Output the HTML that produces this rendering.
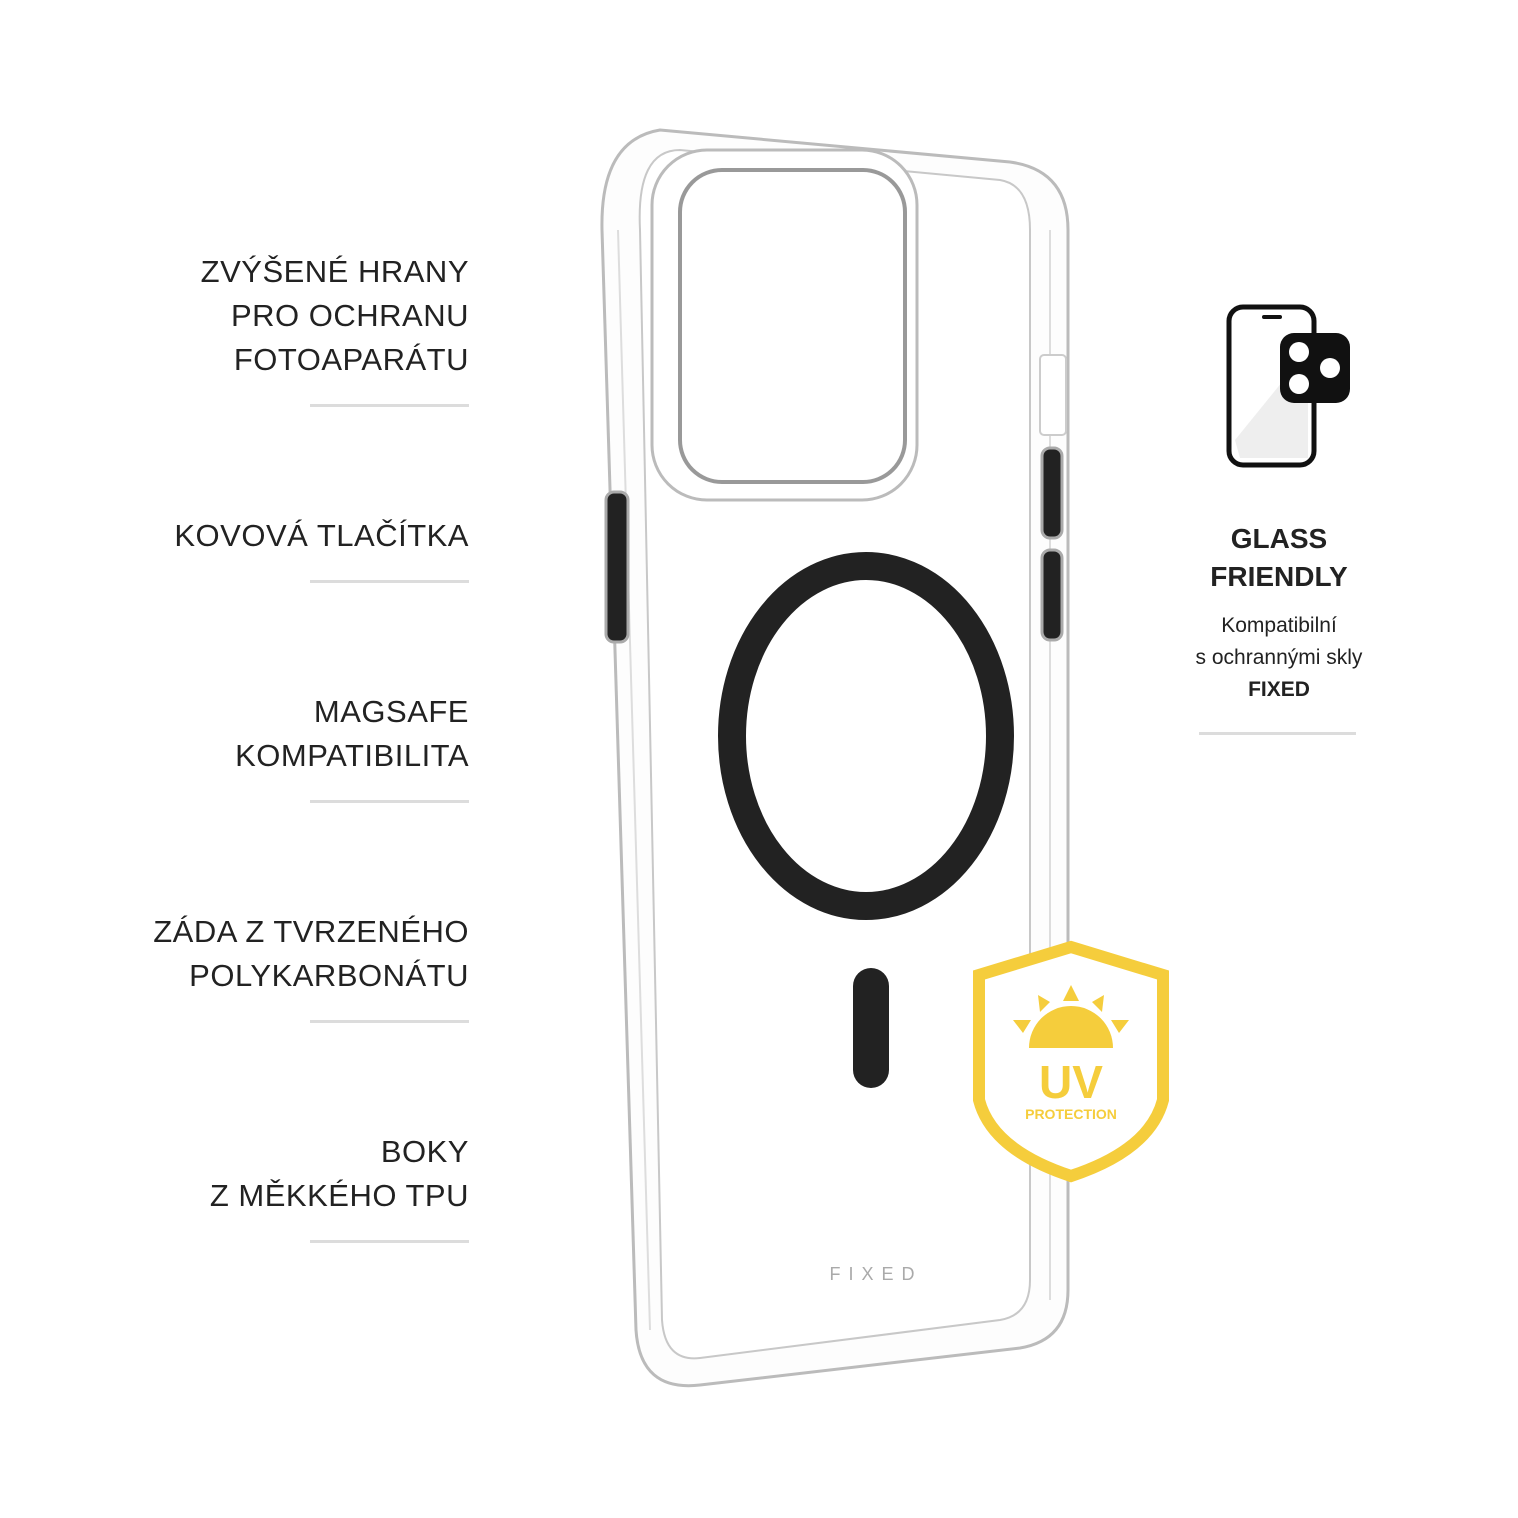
<!DOCTYPE html>
<html><head><meta charset="utf-8"><style>
body{margin:0;width:1518px;height:1518px;background:#fff;position:relative;overflow:hidden;font-family:"Liberation Sans",sans-serif}
.l{position:absolute;right:1049px;text-align:right;font-size:31px;line-height:44px;color:#222;letter-spacing:0.5px;font-weight:300;white-space:nowrap}
.d{position:absolute;left:310px;width:159px;height:3px;background:#dcdcdc}
</style></head><body>
<div class="l" style="top:250px">ZVÝŠENÉ HRANY<br>PRO OCHRANU<br>FOTOAPARÁTU</div>
<div class="d" style="top:404px"></div>
<div class="l" style="top:514px">KOVOVÁ TLAČÍTKA</div>
<div class="d" style="top:580px"></div>
<div class="l" style="top:690px">MAGSAFE<br>KOMPATIBILITA</div>
<div class="d" style="top:800px"></div>
<div class="l" style="top:910px">ZÁDA Z TVRZENÉHO<br>POLYKARBONÁTU</div>
<div class="d" style="top:1020px"></div>
<div class="l" style="top:1130px">BOKY<br>Z MĚKKÉHO TPU</div>
<div class="d" style="top:1240px"></div>

<svg width="1518" height="1518" style="position:absolute;left:0;top:0">
<!-- phone outline -->
<path d="M660 130 L1010 162 Q1068 170 1068 230 L1068 1290 Q1068 1340 1020 1348 L700 1385 Q640 1392 636 1330 L602 230 Q600 140 660 130 Z" fill="#fdfdfd" stroke="#bbb" stroke-width="3"/>
<path d="M680 150 L1000 180 Q1030 185 1030 230 L1030 1280 Q1030 1315 1000 1320 L700 1358 Q665 1362 662 1320 L640 230 Q636 150 680 150 Z" fill="#fff" stroke="#c8c8c8" stroke-width="2"/>
<line x1="618" y1="230" x2="650" y2="1330" stroke="#ddd" stroke-width="2"/>
<line x1="1050" y1="230" x2="1050" y2="1300" stroke="#ddd" stroke-width="2"/>
<!-- camera bump -->
<rect x="652" y="150" width="265" height="350" rx="55" fill="#fff" stroke="#bbb" stroke-width="3"/>
<rect x="680" y="170" width="225" height="312" rx="42" fill="#fff" stroke="#999" stroke-width="4"/>
<!-- buttons -->
<rect x="606" y="492" width="22" height="150" rx="8" fill="#222" stroke="#aaa" stroke-width="3"/>
<rect x="1042" y="448" width="20" height="90" rx="8" fill="#222" stroke="#aaa" stroke-width="3"/>
<rect x="1042" y="550" width="20" height="90" rx="8" fill="#222" stroke="#aaa" stroke-width="3"/>
<rect x="1040" y="355" width="26" height="80" rx="4" fill="#fff" stroke="#ccc" stroke-width="2"/>
<!-- magsafe -->
<ellipse cx="866" cy="736" rx="134" ry="170" fill="none" stroke="#222" stroke-width="28"/>
<rect x="853" y="968" width="36" height="120" rx="18" fill="#222"/>
<text x="876" y="1280" font-size="18" fill="#aaa" letter-spacing="8" text-anchor="middle" font-family="Liberation Sans">FIXED</text>
<!-- glass icon -->
<rect x="1229" y="307" width="85" height="158" rx="14" fill="#fff" stroke="#111" stroke-width="5"/>
<path d="M1235 440 L1308 350 L1308 458 L1240 458 Z" fill="#eee"/>
<rect x="1262" y="315" width="20" height="4" rx="2" fill="#111"/>
<rect x="1280" y="333" width="70" height="70" rx="14" fill="#111"/>
<circle cx="1299" cy="352" r="10" fill="#fff"/><circle cx="1330" cy="368" r="10" fill="#fff"/><circle cx="1299" cy="384" r="10" fill="#fff"/>
<!-- shield -->
<path d="M1071 947 L1163 975 L1163 1100 Q1150 1150 1071 1176 Q992 1150 979 1100 L979 975 Z" fill="#fff" stroke="#f5cd3c" stroke-width="12"/>
<path d="M1029 1048 A42 42 0 0 1 1113 1048 Z" fill="#f5cd3c"/>
<path d="M1071 985 l8 16 h-16 Z M1038 995 l12 7 l-10 10 Z M1104 995 l-12 7 l10 10 Z M1013 1020 l18 0 l-8 13 Z M1129 1020 l-18 0 l8 13 Z" fill="#f5cd3c"/>
<text x="1071" y="1098" font-size="46" font-weight="bold" fill="#f5cd3c" text-anchor="middle">UV</text>
<text x="1071" y="1119" font-size="14" font-weight="bold" fill="#f5cd3c" text-anchor="middle">PROTECTION</text>
</svg>
<div style="position:absolute;left:1160px;width:238px;top:520px;text-align:center;color:#222">
<div style="font-size:28px;font-weight:bold;line-height:38px">GLASS<br>FRIENDLY</div>
<div style="font-size:21px;line-height:32px;margin-top:14px">Kompatibilní<br>s ochrannými skly<br><b>FIXED</b></div>
</div>
<div style="position:absolute;left:1199px;top:732px;width:157px;height:3px;background:#dcdcdc"></div>
</body></html>
